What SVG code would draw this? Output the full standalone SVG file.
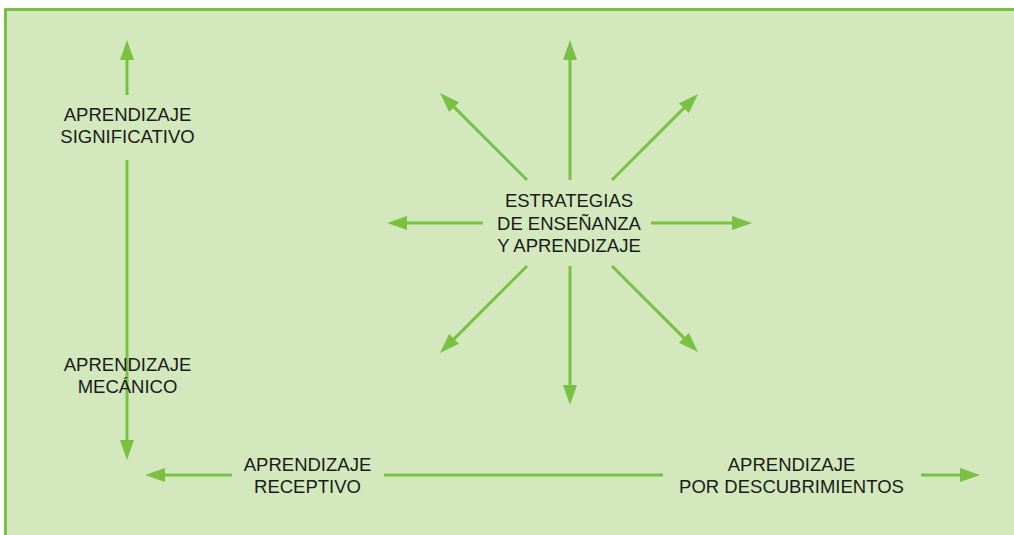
<svg xmlns="http://www.w3.org/2000/svg" width="1014" height="535" viewBox="0 0 1014 535">
<defs>
<style>
.bg{fill:#d3e8bd}
.border{stroke:#7ac143;fill:none}
.c{stroke:#7ac143;stroke-width:3;fill:none}
text{font-family:"Liberation Sans",Arial,sans-serif;font-size:18.5px;fill:#1a1a1a;text-anchor:middle}
</style>
<marker id="ah" markerUnits="userSpaceOnUse" markerWidth="22" markerHeight="16" refX="1" refY="7" orient="auto">
<path d="M0,0 L20,7 L0,14 z" fill="#7ac143"/>
</marker>
</defs>
<rect class="bg" x="5" y="9" width="1009" height="526"/>
<path class="border" d="M5.5,535 V9.5 H1014" stroke-width="3"/>
<g id="connectors">
<line class="c" x1="127" y1="95" x2="127" y2="59" marker-end="url(#ah)"/>
<line class="c" x1="127" y1="160" x2="127" y2="441" marker-end="url(#ah)"/>
<line class="c" x1="232" y1="475" x2="164" y2="475" marker-end="url(#ah)"/>
<line class="c" x1="384" y1="475" x2="663" y2="475"/>
<line class="c" x1="921" y1="475" x2="961" y2="475" marker-end="url(#ah)"/>
<line class="c" x1="570" y1="180" x2="570" y2="59" marker-end="url(#ah)"/>
<line class="c" x1="570" y1="266" x2="570" y2="386" marker-end="url(#ah)"/>
<line class="c" x1="483" y1="223" x2="406" y2="223" marker-end="url(#ah)"/>
<line class="c" x1="651" y1="223" x2="733" y2="223" marker-end="url(#ah)"/>
<line class="c" x1="527" y1="180" x2="453.4" y2="106.4" marker-end="url(#ah)"/>
<line class="c" x1="612" y1="180" x2="684.6" y2="107.4" marker-end="url(#ah)"/>
<line class="c" x1="527" y1="266" x2="453.4" y2="339.6" marker-end="url(#ah)"/>
<line class="c" x1="612" y1="266" x2="684.6" y2="338.6" marker-end="url(#ah)"/>
</g>
<g id="significativo"><text x="127.5" y="121">APRENDIZAJE</text><text x="127.5" y="143">SIGNIFICATIVO</text></g>
<g id="mecanico"><text x="127.5" y="371">APRENDIZAJE</text><text x="127.5" y="393">MECÁNICO</text></g>
<g id="receptivo"><text x="307.5" y="471">APRENDIZAJE</text><text x="307.5" y="493">RECEPTIVO</text></g>
<g id="descubrimientos"><text x="791.5" y="471">APRENDIZAJE</text><text x="791.5" y="492.5">POR DESCUBRIMIENTOS</text></g>
<g id="estrategias"><text x="569" y="207">ESTRATEGIAS</text><text x="569" y="229.5">DE ENSEÑANZA</text><text x="569" y="252">Y APRENDIZAJE</text></g>
</svg>
